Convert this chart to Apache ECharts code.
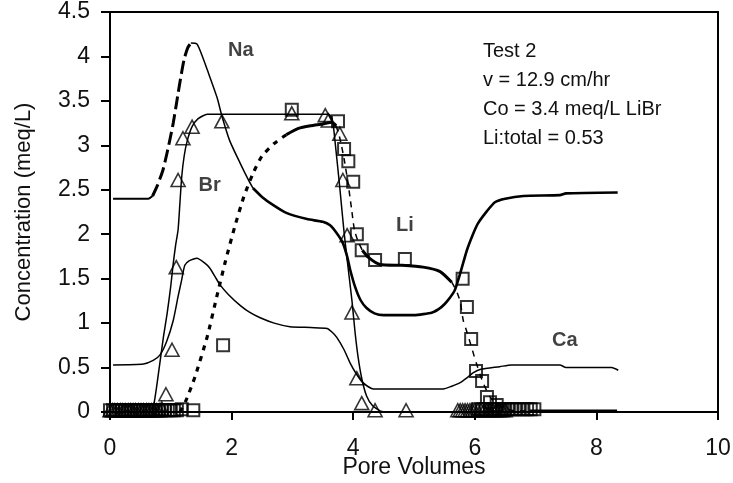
<!DOCTYPE html>
<html>
<head>
<meta charset="utf-8">
<script src="https://cdn.jsdelivr.net/npm/echarts@6/dist/echarts.min.js"></script>
<style>
  html, body { margin: 0; padding: 0; background: #fff; }
  #chart { width: 733px; height: 483px; }
</style>
</head>
<body>
<div id="chart"></div>
<script>
// Axis ticks
const xTicks = [0, 2, 4, 6, 8, 10];
const yTicks = [0, 0.5, 1, 1.5, 2, 2.5, 3, 3.5, 4, 4.5];

// Simulated Na (split by line style)
const naFlat = [[0.05,2.4],[0.63,2.4],[0.7,2.43]];
const naRise = [[0.7,2.43],[0.78,2.55],[0.87,2.72],[0.95,2.95],[1.04,3.25],[1.1,3.5],[1.16,3.75],[1.22,3.97],[1.28,4.1],[1.33,4.15]];
const naPeak = [[1.33,4.15],[1.43,4.14],[1.52,4.0],[1.6,3.85],[1.76,3.54],[1.84,3.33],[1.97,3.05],[2.14,2.8],[2.27,2.62],[2.35,2.52]];
const naTail = [[2.35,2.52],[2.5,2.42],[2.68,2.33],[2.9,2.24],[3.24,2.17],[3.5,2.14],[3.62,2.1],[3.73,2.01],[3.83,1.9],[3.9,1.75],[3.95,1.6],[4.03,1.41],[4.12,1.26],[4.22,1.17],[4.35,1.11],[4.5,1.09],[5.0,1.09],[5.3,1.12],[5.45,1.18],[5.55,1.25],[5.67,1.37],[5.76,1.56],[5.87,1.82],[5.97,2.0],[6.05,2.12],[6.2,2.26],[6.33,2.36],[6.5,2.4],[6.8,2.43],[7.4,2.44],[7.5,2.46],[8.35,2.47]];

// Simulated Li (split by line style)
const liRise = [[1.15,0],[1.25,0.13],[1.4,0.4],[1.6,0.85],[1.75,1.28],[1.9,1.7],[2.05,2.08],[2.2,2.42],[2.35,2.68],[2.5,2.88],[2.7,3.02],[2.9,3.12]];
const liTop = [[2.9,3.12],[3.1,3.19],[3.3,3.22],[3.5,3.24],[3.65,3.26],[3.72,3.22]];
const liDrop = [[3.72,3.22],[3.78,3.08],[3.85,2.85],[3.92,2.55],[3.97,2.3],[4.02,2.05],[4.08,1.92],[4.15,1.82]];
const liMid = [[4.15,1.82],[4.25,1.74],[4.44,1.66],[4.8,1.65],[5.15,1.63],[5.43,1.58],[5.62,1.46]];
const liFall = [[5.62,1.46],[5.7,1.36],[5.76,1.24],[5.81,1.03],[5.88,0.88],[5.95,0.72],[6.02,0.56],[6.13,0.34],[6.25,0.17],[6.4,0.07],[6.6,0.02],[6.9,0.01]];
const liZero = [[6.9,0.01],[8.34,0.01]];

// Simulated Br
const brLine = [[0,0],[0.68,0],[0.72,0.08],[0.77,0.3],[0.82,0.55],[0.88,0.85],[0.94,1.11],[1.0,1.42],[1.04,1.67],[1.08,1.88],[1.12,2.05],[1.15,2.35],[1.18,2.65],[1.22,2.88],[1.27,3.05],[1.35,3.21],[1.45,3.3],[1.6,3.35],[3.6,3.35],[3.66,3.28],[3.72,2.92],[3.78,2.52],[3.85,2.02],[3.92,1.6],[3.98,1.25],[4.03,0.9],[4.08,0.62],[4.14,0.38],[4.22,0.18],[4.32,0.07],[4.45,0.01],[4.6,0],[8.34,0]];

// Simulated Ca
const caLine = [[0.05,0.53],[0.55,0.54],[0.71,0.58],[0.82,0.64],[0.93,0.79],[1.04,1.03],[1.12,1.3],[1.18,1.49],[1.23,1.65],[1.3,1.7],[1.43,1.73],[1.55,1.68],[1.64,1.62],[1.73,1.52],[1.81,1.43],[1.95,1.32],[2.14,1.2],[2.3,1.12],[2.47,1.06],[2.7,1.0],[2.96,0.96],[3.3,0.95],[3.57,0.94],[3.65,0.9],[3.73,0.84],[3.85,0.7],[3.95,0.55],[4.05,0.43],[4.16,0.33],[4.33,0.26],[5.48,0.26],[5.62,0.29],[5.76,0.33],[5.88,0.39],[5.97,0.44],[6.1,0.48],[6.41,0.51],[6.6,0.53],[7.4,0.53],[7.5,0.5],[8.25,0.5],[8.36,0.47]];

// Measured Br (triangles)
const brMeasured = [[0,0.02],[0.04,0.02],[0.08,0.02],[0.12,0.02],[0.17,0.02],[0.21,0.02],[0.25,0.02],[0.3,0.02],[0.34,0.02],[0.38,0.02],[0.42,0.02],[0.47,0.02],[0.51,0.02],[0.55,0.02],[0.6,0.02],[0.64,0.02],[0.68,0.02],[0.72,0.02],[0.77,0.02],[0.81,0.02],[0.85,0.04],[0.92,0.2],[1.02,0.7],[1.09,1.63],[1.12,2.61],[1.2,3.08],[1.35,3.21],[1.84,3.27],[2.99,3.36],[3.54,3.34],[3.59,3.28],[3.78,3.13],[3.83,2.61],[3.9,1.99],[3.98,1.12],[4.06,0.38],[4.14,0.1],[4.36,0.02],[4.87,0.02],[5.72,0.02],[5.76,0.02],[5.8,0.02],[5.84,0.02],[5.88,0.02],[5.92,0.02],[5.96,0.02],[6.0,0.02],[6.05,0.02],[6.1,0.02],[6.15,0.02],[6.2,0.02],[6.25,0.02],[6.3,0.02],[6.35,0.02],[6.4,0.02],[6.45,0.02],[6.5,0.02]];

// Measured Li (squares)
const liMeasured = [[0,0.02],[0.05,0.02],[0.1,0.02],[0.15,0.02],[0.2,0.02],[0.25,0.02],[0.3,0.02],[0.35,0.02],[0.4,0.02],[0.45,0.02],[0.5,0.02],[0.55,0.02],[0.6,0.02],[0.65,0.02],[0.7,0.02],[0.75,0.02],[0.8,0.02],[0.85,0.02],[0.9,0.02],[0.95,0.02],[1.0,0.02],[1.05,0.02],[1.1,0.02],[1.18,0.03],[1.37,0.02],[1.86,0.75],[2.99,3.4],[3.75,3.27],[3.85,2.96],[3.92,2.82],[4.0,2.59],[4.06,2.0],[4.14,1.82],[4.36,1.71],[4.85,1.72],[5.8,1.5],[5.87,1.18],[5.94,0.82],[6.02,0.46],[6.12,0.35],[6.2,0.17],[6.25,0.11],[6.36,0.08],[6.05,0.03],[6.12,0.03],[6.18,0.03],[6.28,0.03],[6.33,0.03],[6.4,0.03],[6.45,0.03],[6.5,0.03],[6.56,0.03],[6.62,0.03],[6.68,0.03],[6.74,0.03],[6.8,0.03],[6.86,0.03],[6.92,0.03],[6.98,0.03]];

// Curve names and the test notes
const curveNames = ['Na', 'Br', 'Li', 'Ca'];
const noteLines = ['Test 2', 'v = 12.9 cm/hr', 'Co = 3.4 meq/L LiBr', 'Li:total = 0.53'];

// Where each curve name sits, in axis units
const curveNameAnchors = {
  Na: [2.15, 4.07],
  Br: [1.64, 2.55],
  Li: [4.85, 2.1],
  Ca: [7.48, 0.81]
};

const FONT = '"Liberation Sans", Arial, Helvetica, sans-serif';
const INK = '#000';
const TEXT = '#111';

function lineSeries(data, width, type) {
  return {
    type: 'line',
    data: data,
    showSymbol: false,
    symbol: 'none',
    smooth: 0.2,
    silent: true,
    lineStyle: { color: INK, width: width, type: type || 'solid', cap: 'butt' },
    z: 3
  };
}

const chart = echarts.init(document.getElementById('chart'), null, { renderer: 'canvas' });

const option = {
  animation: false,
  backgroundColor: '#fff',
  grid: {
    left: 110, right: 15, top: 12, bottom: 71,
    containLabel: false,
    outerBoundsMode: 'none',
    show: true, borderColor: INK, borderWidth: 2, backgroundColor: 'transparent'
  },
  xAxis: {
    type: 'value',
    min: xTicks[0], max: xTicks[xTicks.length - 1], interval: xTicks[1] - xTicks[0],
    name: 'Pore Volumes',
    nameLocation: 'middle',
    nameGap: 44,
    nameMoveOverlap: false,
    nameTextStyle: { fontFamily: FONT, fontSize: 23, color: TEXT },
    axisLine: { onZero: false, lineStyle: { color: INK, width: 2 } },
    axisTick: { inside: false, length: 8, lineStyle: { color: INK, width: 2 } },
    axisLabel: { fontFamily: FONT, fontSize: 23, color: TEXT, margin: 25 },
    splitLine: { show: false }
  },
  yAxis: {
    type: 'value',
    min: yTicks[0], max: yTicks[yTicks.length - 1], interval: yTicks[1] - yTicks[0],
    name: 'Concentration (meq/L)',
    nameLocation: 'middle',
    nameGap: 75,
    nameMoveOverlap: false,
    nameTextStyle: { fontFamily: FONT, fontSize: 22, color: TEXT },
    axisLine: { onZero: false, lineStyle: { color: INK, width: 2 } },
    axisTick: { inside: false, length: 9, lineStyle: { color: INK, width: 2 } },
    axisLabel: { fontFamily: FONT, fontSize: 23, color: TEXT, margin: 20 },
    splitLine: { show: false }
  },
  series: [
    lineSeries(caLine, 1.5),
    lineSeries(brLine, 1.5),
    lineSeries(naFlat, 2),
    lineSeries(naRise, 3, [13, 5]),
    lineSeries(naPeak, 1.5),
    lineSeries(naTail, 2.6),
    lineSeries(liRise, 3.2, [5, 6]),
    lineSeries(liTop, 3),
    lineSeries(liDrop, 1.5, [6, 5]),
    lineSeries(liMid, 3),
    lineSeries(liFall, 1.5, [6, 6]),
    lineSeries(liZero, 3),
    {
      type: 'scatter',
      data: brMeasured,
      symbol: 'triangle',
      symbolSize: [14, 13],
      clip: false,
      silent: true,
      itemStyle: { color: 'rgba(255,255,255,0)', borderColor: INK, borderWidth: 1.6 },
      z: 4
    },
    {
      type: 'scatter',
      data: liMeasured,
      symbol: 'rect',
      symbolSize: 12,
      clip: false,
      silent: true,
      itemStyle: { color: 'rgba(255,255,255,0)', borderColor: INK, borderWidth: 2 },
      z: 4
    },
    {
      type: 'scatter',
      data: curveNames.map(n => ({ name: n, value: curveNameAnchors[n] })),
      symbolSize: 0,
      silent: true,
      label: {
        show: true,
        position: 'inside',
        formatter: p => p.name,
        fontFamily: FONT,
        fontWeight: 'bold',
        fontSize: 20,
        color: TEXT
      },
      z: 5
    }
  ],
  graphic: [{
    type: 'text',
    left: 483,
    top: 37,
    silent: true,
    style: {
      text: noteLines.join('\n'),
      font: '20px ' + FONT,
      lineHeight: 29,
      fill: TEXT
    }
  }]
};

chart.setOption(option);
</script>
</body>
</html>
